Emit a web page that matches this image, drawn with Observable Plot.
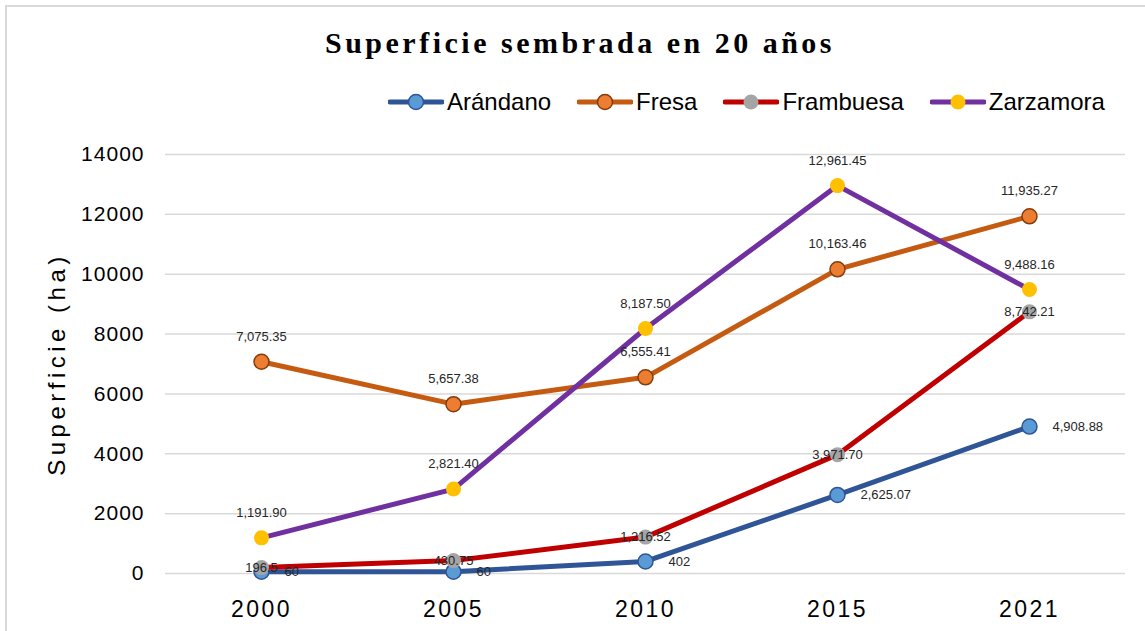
<!DOCTYPE html>
<html>
<head>
<meta charset="utf-8">
<script src="https://cdn.jsdelivr.net/npm/d3@7"></script>
<script src="https://cdn.jsdelivr.net/npm/@observablehq/plot@0.6"></script>
<style>
  html, body { margin: 0; padding: 0; background: #fff; }
  body { width: 1145px; height: 631px; position: relative; overflow: hidden; font-family: "Liberation Sans", Arial, sans-serif; }
  #frame { position: absolute; left: 5px; top: 5px; width: 1300px; height: 800px; border-top: 2px solid #d9d9d9; border-left: 2px solid #d9d9d9; }
  #title { position: absolute; left: 0; width: 1160px; top: 26px; text-align: center; font-family: "Liberation Serif", "Times New Roman", serif; font-weight: bold; font-size: 30px; letter-spacing: 3.5px; color: #000; }
  #legend { position: absolute; left: 388px; top: 88px; display: flex; align-items: center; font-size: 24px; color: #000; }
  .item { display: flex; align-items: center; margin-right: 26px; }
  .item svg { margin-right: 3px; }
  #chart { position: absolute; left: 0; top: 125px; }
</style>
</head>
<body>
<div id="frame"></div>
<div id="title">Superficie sembrada en 20 años</div>
<div id="legend"></div>
<div id="chart"></div>
<script>
const years = ["2000", "2005", "2010", "2015", "2021"];
const arandano = [60, 60, 402, 2625.07, 4908.88];
const fresa = [7075.35, 5657.38, 6555.41, 10163.46, 11935.27];
const frambuesa = [196.5, 430.75, 1216.52, 3971.70, 8742.21];
const zarzamora = [1191.90, 2821.40, 8187.50, 12961.45, 9488.16];
const seriesNames = ["Arándano", "Fresa", "Frambuesa", "Zarzamora"];
const yTicks = [0, 2000, 4000, 6000, 8000, 10000, 12000, 14000];

const styles = {
  "Arándano": {line: "#2f5597", fill: "#5b9bd5", stroke: "#2f5597", labelDx: 23, labelDy: 0, anchor: "start"},
  "Fresa": {line: "#c55a11", fill: "#ed7d31", stroke: "#843c0c", labelDx: 0, labelDy: -25, anchor: "middle"},
  "Frambuesa": {line: "#c00000", fill: "#a5a5a5", stroke: "none", labelDx: 0, labelDy: 0, anchor: "middle"},
  "Zarzamora": {line: "#7030a0", fill: "#ffc000", stroke: "none", labelDx: 0, labelDy: -25, anchor: "middle"}
};

const valuesBySeries = [arandano, fresa, frambuesa, zarzamora];
const data = [];
seriesNames.forEach((s, i) => {
  valuesBySeries[i].forEach((v, j) => data.push({serie: s, year: years[j], value: v}));
});
const fmt = v => v >= 1000 ? d3.format(",.2f")(v) : String(v);

// Legend
const legend = document.getElementById("legend");
seriesNames.forEach(s => {
  const st = styles[s];
  const item = document.createElement("div");
  item.className = "item";
  item.innerHTML = `<svg width="56" height="20"><line x1="2" y1="10" x2="54" y2="10" stroke="${st.line}" stroke-width="5" stroke-linecap="round"/><circle cx="28" cy="10" r="7.5" fill="${st.fill}" stroke="${st.stroke}" stroke-width="1.5"/></svg><span>${s}</span>`;
  legend.appendChild(item);
});

const marks = [
  Plot.gridY(yTicks, {stroke: "#d9d9d9", strokeOpacity: 1, strokeWidth: 1.5}),
  Plot.axisY({ticks: yTicks, tickSize: 0, tickPadding: 21, tickFormat: d => String(d), fontSize: 21, fill: "#000"}),
  Plot.axisX({tickSize: 0, tickPadding: 27, fontSize: 23, fill: "#000"}),
  Plot.text(["Superficie (ha)"], {frameAnchor: "left", text: d => d, rotate: -90, dx: -108, textAnchor: "middle", fontSize: 24, fill: "#000", className: "ylab"})
];
seriesNames.forEach(s => {
  const st = styles[s];
  const sub = data.filter(d => d.serie === s);
  marks.push(Plot.line(sub, {x: "year", y: "value", stroke: st.line, strokeWidth: 5}));
  marks.push(Plot.dot(sub, {x: "year", y: "value", r: 7.5, fill: st.fill, stroke: st.stroke, strokeWidth: 1.5}));
});
seriesNames.forEach(s => {
  const st = styles[s];
  const sub = data.filter(d => d.serie === s);
  marks.push(Plot.text(sub, {x: "year", y: "value", text: d => fmt(d.value), dx: st.labelDx, dy: st.labelDy, textAnchor: st.anchor, fontSize: 13, fill: "#262626"}));
});

const chart = Plot.plot({
  width: 1145,
  height: 506,
  marginTop: 29,
  marginBottom: 58,
  marginLeft: 165,
  marginRight: 20,
  style: {fontFamily: "'Liberation Sans', Arial, sans-serif", background: "transparent", overflow: "visible"},
  x: {type: "point", domain: years, padding: 0.5, label: null},
  y: {domain: [0, 14000], label: null},
  marks
});
chart.querySelectorAll("g[aria-label='y-axis tick label'] text").forEach(t => t.style.letterSpacing = "1px");
chart.querySelectorAll("g[aria-label='x-axis tick label'] text").forEach(t => t.style.letterSpacing = "2.5px");
chart.querySelectorAll(".ylab text").forEach(t => t.style.letterSpacing = "4.5px");
document.getElementById("chart").appendChild(chart);
</script>
</body>
</html>
